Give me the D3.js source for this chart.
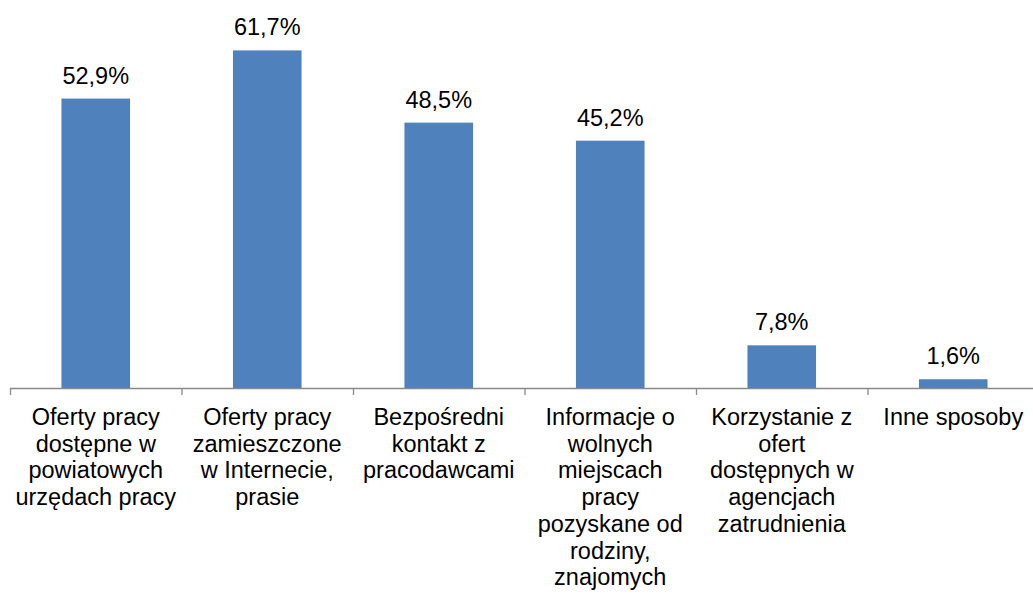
<!DOCTYPE html>
<html>
<head>
<meta charset="utf-8">
<script src="https://cdn.jsdelivr.net/npm/d3@7"></script>
<style>
  body { margin: 0; background: #fff; }
  text { font-family: "Liberation Sans", Arial, sans-serif; fill: #000; }
</style>
</head>
<body>
<div id="chart"></div>
<script>
// category labels, already broken into lines as in the original
var categories = [
  ["Oferty pracy", "dostępne w", "powiatowych", "urzędach pracy"],
  ["Oferty pracy", "zamieszczone", "w Internecie,", "prasie"],
  ["Bezpośredni", "kontakt z", "pracodawcami"],
  ["Informacje o", "wolnych", "miejscach", "pracy", "pozyskane od", "rodziny,", "znajomych"],
  ["Korzystanie z", "ofert", "dostępnych w", "agencjach", "zatrudnienia"],
  ["Inne sposoby"]
];
var values = [52.9, 61.7, 48.5, 45.2, 7.8, 1.6];
var valueLabels = ["52,9%", "61,7%", "48,5%", "45,2%", "7,8%", "1,6%"];

var width = 1033, height = 596;
var left = 10, bandStep = 171.5, baseY = 388;

var svg = d3.select("#chart").append("svg")
  .attr("width", width)
  .attr("height", height);

var x = d3.scaleBand()
  .domain(d3.range(values.length))
  .range([left, left + bandStep * values.length])
  .paddingInner(0.6)
  .paddingOuter(0.3);

var y = d3.scaleLinear()
  .domain([0, 70])
  .range([baseY, 5]);

//bars
svg.selectAll("rect.bar")
  .data(values).enter()
  .append("rect")
  .attr("class", "bar")
  .attr("x", function (d, i) { return x(i); })
  .attr("y", function (d) { return y(d); })
  .attr("width", x.bandwidth())
  .attr("height", function (d) { return baseY - y(d); })
  .style("fill", "#4F81BD");

//value labels
svg.selectAll("text.val")
  .data(values).enter()
  .append("text")
  .attr("class", "val")
  .attr("x", function (d, i) { return x(i) + x.bandwidth() / 2; })
  .attr("y", function (d) { return y(d) - 15; })
  .attr("text-anchor", "middle")
  .style("font-size", "23.5px")
  .text(function (d, i) { return valueLabels[i]; });

//category axis line and tick marks between categories
var axis = svg.append("g").attr("class", "axis");
axis.append("line")
  .attr("x1", left).attr("x2", width)
  .attr("y1", baseY + 0.5).attr("y2", baseY + 0.5)
  .style("stroke", "#898989").style("stroke-width", 1.3);

axis.selectAll("line.tick")
  .data(d3.range(values.length + 1)).enter()
  .append("line")
  .attr("class", "tick")
  .attr("x1", function (d) { return left + d * bandStep + 0.5; })
  .attr("x2", function (d) { return left + d * bandStep + 0.5; })
  .attr("y1", baseY).attr("y2", baseY + 7)
  .style("stroke", "#898989").style("stroke-width", 1.3);

//multi-line category labels
var catLabel = axis.selectAll("text.cat")
  .data(categories).enter()
  .append("text")
  .attr("class", "cat")
  .attr("text-anchor", "middle")
  .style("font-size", "23.5px")
  .attr("transform", function (d, i) {
    return "translate(" + (x(i) + x.bandwidth() / 2) + "," + (baseY + 37) + ")";
  });

catLabel.selectAll("tspan")
  .data(function (d) { return d; }).enter()
  .append("tspan")
  .attr("x", 0)
  .attr("y", function (d, i) { return i * 26.7; })
  .text(function (d) { return d; });
</script>
</body>
</html>
